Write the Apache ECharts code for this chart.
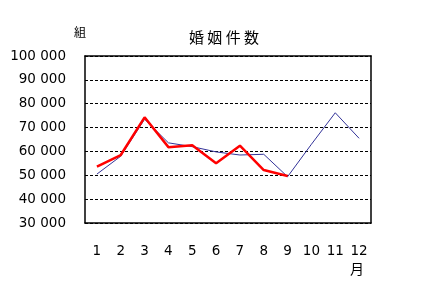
<!DOCTYPE html>
<html><head><meta charset="utf-8">
<script src="https://cdn.jsdelivr.net/npm/echarts@6/dist/echarts.min.js"></script>
<style>html,body{margin:0;padding:0;background:#fff}#c{width:448px;height:293px}</style>
</head><body><div id="c"></div>
<script>
const months = ['1','2','3','4','5','6','7','8','9','10','11','12'];
const prevYear = [50500, 58000, 73500, 63600, 62000, 59800, 58500, 58800, 49400, 63000, 76200, 65500];
const thisYear = [53600, 58500, 74300, 61800, 62600, 55000, 62400, 52200, 49700];
const yTicks = {min: 30000, max: 100000, step: 10000};
const title = '婚 姻 件 数';
const unitY = '組';
const unitX = '月';

const chart = echarts.init(document.getElementById('c'), null, {renderer: 'canvas'});
const fmt = v => String(v).replace(/\B(?=(\d{3})+(?!\d))/g, ' ');
const font = '"Noto Sans CJK JP", "Liberation Sans", sans-serif';
const numFont = '"DejaVu Sans", sans-serif';
chart.setOption({
  animation: false,
  backgroundColor: '#fff',
  grid: {left: 85, right: 77, top: 56, bottom: 70},
  title: {text: title, left: 'center', top: 25, textStyle: {fontSize: 15, fontWeight: 'normal', color: '#000', fontFamily: font}},
  graphic: [
    {type: 'text', left: 74, top: 26, style: {text: unitY, fontSize: 12, fill: '#000', fontFamily: font}},
    {type: 'text', left: 350, top: 262, style: {text: unitX, fontSize: 14, fill: '#000', fontFamily: font}}
  ],
  xAxis: [{
    type: 'category', data: months, boundaryGap: true,
    axisLine: {lineStyle: {color: '#000', width: 1.5}},
    axisTick: {inside: true, length: 4, lineStyle: {color: '#000'}},
    axisLabel: {margin: 21, fontSize: 13.5, color: '#000', fontFamily: numFont},
    splitLine: {show: false}
  }, {
    type: 'category', data: months, position: 'top',
    axisLine: {lineStyle: {color: '#000', width: 1.5}}, axisTick: {show: false}, axisLabel: {show: false}
  }],
  yAxis: [{
    type: 'value', min: yTicks.min, max: yTicks.max, interval: yTicks.step,
    axisLine: {show: true, lineStyle: {color: '#000', width: 1.5}},
    axisTick: {show: false},
    axisLabel: {margin: 19, fontSize: 13.5, color: '#000', formatter: fmt, fontFamily: numFont},
    splitLine: {show: true, lineStyle: {color: '#000', type: [3, 2], width: 1}}
  }, {
    type: 'value', min: yTicks.min, max: yTicks.max, interval: yTicks.step, position: 'right',
    axisLine: {show: true, lineStyle: {color: '#000', width: 1.5}}, axisTick: {show: false}, axisLabel: {show: false}, splitLine: {show: false}
  }],
  series: [{
    type: 'line', data: prevYear, symbol: 'none', z: 2,
    lineStyle: {color: '#333399', width: 1}
  }, {
    type: 'line', data: thisYear, symbol: 'none', z: 3,
    lineStyle: {color: '#ff0000', width: 2.5}
  }]
});
</script></body></html>
